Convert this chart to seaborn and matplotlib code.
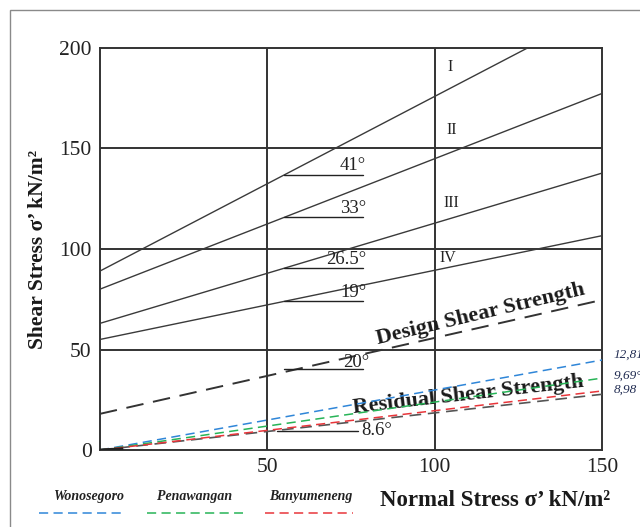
import numpy as np
import pandas as pd
import matplotlib
matplotlib.use('Agg')
import matplotlib.pyplot as plt
import seaborn as sns
from matplotlib.patches import Rectangle

# peak strength envelopes (solid)
envelope_names = ['I', 'II', 'III', 'IV']
envelope_cohesion = [89, 80, 63, 55]
envelope_phi = [41, 33, 26.5, 19]
envelope_angle_labels = ['41°', '33°', '26.5°', '19°']

# design strength (dashed)
design_cohesion = 18
design_slope = 0.378
design_label = '20°'

# residual strength of the three sites (value at sigma = 150)
site_names = ['Wonosegoro', 'Penawangan', 'Banyumeneng']
site_end_values = [44.8, 35.8, 29.4]
site_angle_labels = ['12,81°', '9,69°', '8,98']
site_colors = ['#2f86d8', '#27b457', '#e8353a']
residual_slope = 0.185
residual_label = '8.6°'

sigma = np.array([0, 150])

sns.set_style('white')
plt.rcParams['font.family'] = ['Liberation Serif', 'DejaVu Serif']

fig = plt.figure(figsize=(6.4, 5.27), dpi=100)
ax = fig.add_axes([0.156, 0.146, 0.785, 0.763])

# envelopes I - IV
rows = []
for name, c, phi in zip(envelope_names, envelope_cohesion, envelope_phi):
    for s in sigma:
        rows.append({'sigma': s, 'tau': c + np.tan(np.radians(phi)) * s, 'line': name})
df_env = pd.DataFrame(rows)
sns.lineplot(data=df_env, x='sigma', y='tau', units='line', estimator=None,
             color='#3a3a3a', lw=1.0, ax=ax, zorder=3)

# design line
df_design = pd.DataFrame({'sigma': sigma, 'tau': design_cohesion + design_slope * sigma})
sns.lineplot(data=df_design, x='sigma', y='tau', color='#333333', lw=1.4,
             ax=ax, zorder=3).lines[-1].set_dashes([9, 5])

# residual (black, under coloured)
df_res = pd.DataFrame({'sigma': sigma, 'tau': residual_slope * sigma})
sns.lineplot(data=df_res, x='sigma', y='tau', color='#555555', lw=1.2,
             ax=ax, zorder=3).lines[-1].set_dashes([7, 4])
ax.plot([0, 7], [0, 0.6], color='#222222', lw=2.2, zorder=5, solid_capstyle='butt')

for name, end, col in zip(site_names, site_end_values, site_colors):
    d = pd.DataFrame({'sigma': sigma, 'tau': sigma / 150 * end})
    sns.lineplot(data=d, x='sigma', y='tau', color=col, lw=1.1,
                 ax=ax, zorder=4).lines[-1].set_dashes([6, 3.5])

# angle reference segments and labels
x0, x1 = 55, 78.5
for c, phi, lab in zip(envelope_cohesion, envelope_phi, envelope_angle_labels):
    y = c + np.tan(np.radians(phi)) * x0
    ax.plot([x0, x1], [y, y], color='#222222', lw=1.0, zorder=3)
    ax.text(x1 + 1, y + 0.3, lab, ha='right', va='bottom', fontsize=13.5, color='#222222')
y = design_cohesion + design_slope * x0 + 1.5
ax.plot([x0, x1], [y, y], color='#222222', lw=1.0, zorder=3)
ax.text(x1 + 2, y - 1.2, design_label, ha='right', va='bottom', fontsize=13.5, color='#222222')
y = 9.5
ax.plot([53, 77], [y, y], color='#222222', lw=1.0, zorder=3)
ax.text(78, y, residual_label, ha='left', va='center', fontsize=13.5, color='#222222')

# roman numerals
numeral_pos = [(104.6, 190.5), (105, 159), (105, 123), (104, 95.5)]
for name, (px, py) in zip(envelope_names, numeral_pos):
    ax.text(px, py, name, ha='center', va='center', fontsize=11.5, color='#222222')

ax.text(113.8, 67.5, 'Design Shear Strength', rotation=13.5, rotation_mode='anchor',
        ha='center', va='center', fontsize=16, fontweight='bold', color='#1a1a1a')
ax.text(110, 27.5, 'Residual Shear Strength', rotation=6.5, rotation_mode='anchor',
        ha='center', va='center', fontsize=16, fontweight='bold', color='#1a1a1a')

# site labels at right edge
for lab, yv in zip(site_angle_labels, [47.3, 36.8, 29.9]):
    ax.text(153.3, yv, lab, ha='left', va='center', fontsize=9.5, style='italic',
            color='#1f2a50', clip_on=False)

ax.set_xlim(0, 150)
ax.set_ylim(0, 200)
ax.set_xticks([50, 100, 150])
ax.set_yticks([0, 50, 100, 150, 200])
ax.tick_params(length=0, labelsize=15.5, pad=6, colors='#222222')
for v in [50, 100]:
    ax.axvline(v, color='#333333', lw=1.4, zorder=2)
for v in [50, 100, 150]:
    ax.axhline(v, color='#333333', lw=1.4, zorder=2)
for sp in ax.spines.values():
    sp.set_color('#333333')
    sp.set_linewidth(1.4)

ax.set_xlabel('')
ax.set_ylabel('Shear Stress σ\u2019 kN/m²', fontsize=15.5, fontweight='bold', labelpad=8,
              color='#1a1a1a')
fig.text(0.774, 0.051, 'Normal Stress σ\u2019 kN/m²', ha='center', va='center',
         fontsize=16.5, fontweight='bold', color='#1a1a1a')

# legend drawn below the axes
legend_text_x = [0.139, 0.304, 0.486]
legend_line_x = [(0.061, 0.192), (0.230, 0.380), (0.414, 0.552)]
for name, tx, (la, lb), col in zip(site_names, legend_text_x, legend_line_x, site_colors):
    fig.text(tx, 0.057, name, ha='center', va='center', fontsize=10, style='italic',
             fontweight='bold', color='#222222')
    fig.lines.append(plt.Line2D([la, lb], [0.027, 0.027], transform=fig.transFigure,
                                color=col, lw=1.1, dashes=[6, 3.5]))

# outer frame
fig.patches.append(Rectangle((10 / 640, -0.1), 1.2, 1.1 - 10 / 527, transform=fig.transFigure,
                             fill=False, edgecolor='#8a8a8a', lw=1.0))

if ax.get_legend() is not None:
    ax.get_legend().remove()

fig.savefig('out.png', dpi=100)
